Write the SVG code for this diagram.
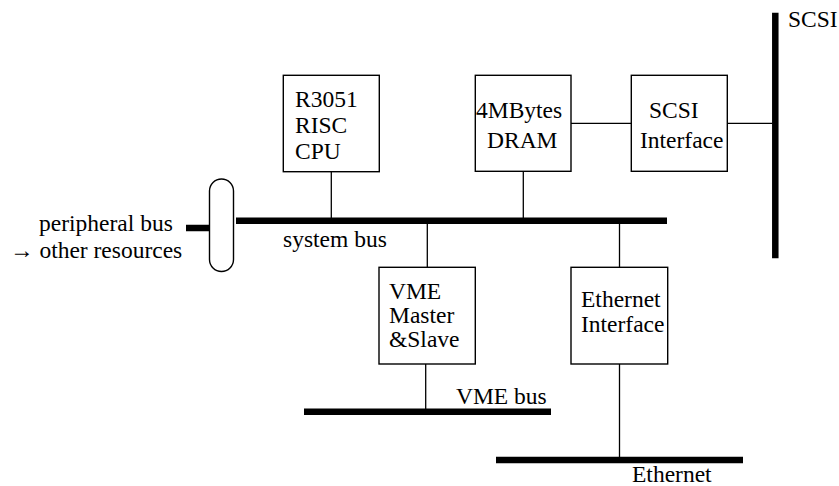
<svg xmlns="http://www.w3.org/2000/svg" width="839" height="486" viewBox="0 0 839 486">
  <style>
    .box { fill: #fff; stroke: #000; stroke-width: 1.4; }
    .wire { stroke: #000; stroke-width: 1.3; fill: none; }
    .bus { stroke: #000; stroke-width: 6.5; fill: none; }
    text { font-family: 'Liberation Serif', 'Times New Roman', serif; font-size: 23.5px; fill: #000; }
  </style>

  <!-- buses and connecting wires -->
  <g id="connectors">
    <line class="bus" x1="236" y1="220.7" x2="667" y2="220.7"/>
    <line class="bus" x1="186" y1="228" x2="210" y2="228"/>
    <line class="bus" x1="775.3" y1="12.7" x2="775.3" y2="258.3"/>
    <line class="bus" x1="304" y1="411.7" x2="551" y2="411.7"/>
    <line class="bus" x1="496" y1="460" x2="743" y2="460"/>

    <line class="wire" x1="331.3" y1="172" x2="331.3" y2="218"/>
    <line class="wire" x1="523.3" y1="171.5" x2="523.3" y2="218"/>
    <line class="wire" x1="427.3" y1="223" x2="427.3" y2="267.5"/>
    <line class="wire" x1="619.5" y1="223" x2="619.5" y2="267.5"/>
    <line class="wire" x1="571" y1="123.3" x2="631.3" y2="123.3"/>
    <line class="wire" x1="727.3" y1="123.3" x2="772.5" y2="123.3"/>
    <line class="wire" x1="425.7" y1="364" x2="425.7" y2="409"/>
    <line class="wire" x1="619.5" y1="364" x2="619.5" y2="457"/>
  </g>

  <g id="bridge">
    <rect class="box" x="209.5" y="179" width="24" height="92.5" rx="12" ry="12"/>
  </g>

  <g id="cpu">
    <rect class="box" x="283.3" y="75.3" width="96" height="96.4"/>
    <text x="295" y="106.7">R3051</text>
    <text x="295" y="133">RISC</text>
    <text x="295" y="159">CPU</text>
  </g>

  <g id="dram">
    <rect class="box" x="475.3" y="75.3" width="95.7" height="96"/>
    <text x="476" y="118">4MBytes</text>
    <text x="487" y="148">DRAM</text>
  </g>

  <g id="scsi-interface">
    <rect class="box" x="631.3" y="75.3" width="96" height="96"/>
    <text x="649" y="118">SCSI</text>
    <text x="640" y="148">Interface</text>
  </g>

  <g id="vme">
    <rect class="box" x="379" y="267.3" width="96.3" height="96.7"/>
    <text x="389" y="299">VME</text>
    <text x="389" y="323">Master</text>
    <text x="389" y="347">&amp;Slave</text>
  </g>

  <g id="ethernet-interface">
    <rect class="box" x="571" y="267.3" width="96.7" height="96.7"/>
    <text x="581" y="307">Ethernet</text>
    <text x="581" y="332">Interface</text>
  </g>

  <!-- bus labels -->
  <g id="labels">
    <text x="788" y="27">SCSI</text>
    <text x="283" y="247">system bus</text>
    <text x="39" y="231">peripheral bus</text>
    <text x="10" y="258">→ other resources</text>
    <text x="456" y="404">VME bus</text>
    <text x="632" y="482">Ethernet</text>
  </g>
</svg>
